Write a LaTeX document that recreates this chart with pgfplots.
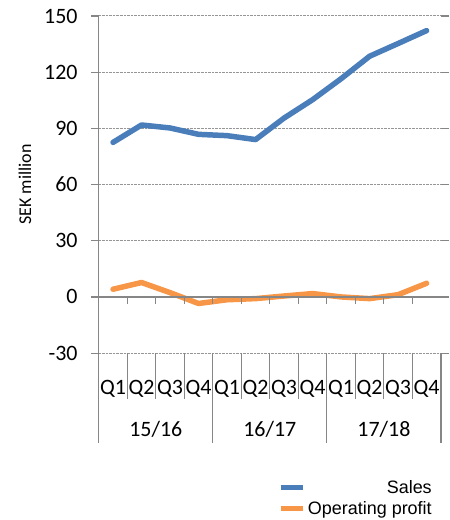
\documentclass[border=0pt]{standalone}
\usepackage{fontspec}
\setmainfont{Carlito}
\newfontfamily\arialfont{Liberation Sans}
\usepackage{pgfplots}
\pgfplotsset{compat=1.18}
\definecolor{salesblue}{RGB}{74,126,187}
\definecolor{profitorange}{RGB}{247,150,70}
\definecolor{axgray}{RGB}{134,134,134}
\definecolor{gridgray}{RGB}{150,150,150}

\begin{document}
\begin{tikzpicture}
\begin{axis}[
    scale only axis, width=343pt, height=338pt,
    xmin=0, xmax=12, ymin=-30, ymax=150,
    axis line style={draw=none},
    clip=false,
    ytick={-30,0,30,60,90,120,150},
    yticklabels={-30,0,30,60,90,120,150},
    ymajorgrids, grid style={gridgray, densely dotted, line width=1pt},
    tick align=outside, major tick length=8pt,
    ytick style={axgray, line width=1.2pt},
    yticklabel style={font=\fontsize{22}{26}\selectfont, inner sep=0pt, anchor=east},
    yticklabel shift=13pt,
    xtick={0.5,1.5,...,11.5},
    xticklabels={Q1,Q2,Q3,Q4,Q1,Q2,Q3,Q4,Q1,Q2,Q3,Q4},
    xtick style={draw=none},
    xticklabel style={font=\fontsize{22}{26}\selectfont, inner sep=0pt, anchor=center, yshift=-28pt},
    legend style={at={(rel axis cs:1,0)}, anchor=north east, xshift=-4pt, yshift=-123pt,
        draw=none, fill=none, font=\arialfont\fontsize{18}{21}\selectfont,
        cells={anchor=east}, row sep=3pt},
    legend image code/.code={\draw[#1, line width=5pt, line cap=butt] (0pt,0pt) -- (23pt,0pt);},
]
\coordinate (sw) at (rel axis cs:0,0);
\coordinate (zero) at (axis cs:0,0);
\coordinate (top) at (rel axis cs:0,1);
\addplot[salesblue, line width=5.5pt, line join=round, line cap=round] coordinates {
 (0.5,82.5) (1.5,91.8) (2.5,90.2) (3.5,86.8) (4.5,86.1) (5.5,84.0)
 (6.5,95.5) (7.5,105.3) (8.5,116.5) (9.5,128.5) (10.5,135.3) (11.5,142.2)};
\addlegendentry{Sales}
\addplot[profitorange, line width=5.5pt, line join=round, line cap=round] coordinates {
 (0.5,4.1) (1.5,7.7) (2.5,2.3) (3.5,-3.5) (4.5,-1.5) (5.5,-0.9)
 (6.5,0.5) (7.5,1.8) (8.5,0.0) (9.5,-0.9) (10.5,1.2) (11.5,7.3)};
\addlegendentry{Operating profit}
\end{axis}
\begin{scope}[axgray, line width=1.2pt]
\draw (sw) -- (top);
\draw[line width=1.5pt] (zero) -- ++(343pt,0);
\foreach \k in {1,...,11} \draw ([xshift=\k*28.5833pt]zero) -- ++(0,-7pt);
\foreach \k in {1,2,3,5,6,7,9,10,11} \draw ([xshift=\k*28.5833pt]sw) -- ++(0,-46pt);
\foreach \k in {0,4,8,12} \draw ([xshift=\k*28.5833pt]sw) -- ++(0,-90pt);
\end{scope}
\begin{scope}[font=\fontsize{22}{26}\selectfont]
\node at ([xshift=2*28.5833pt, yshift=-76pt]sw) {15/16};
\node at ([xshift=6*28.5833pt, yshift=-76pt]sw) {16/17};
\node at ([xshift=10*28.5833pt, yshift=-76pt]sw) {17/18};
\end{scope}
\node[rotate=90, font=\fontsize{18}{22}\selectfont] at ([xshift=-74pt, yshift=169pt]sw) {SEK million};
\path (sw) ++(-99pt,-166pt) rectangle ++(448pt,520pt);
\end{tikzpicture}
\end{document}
